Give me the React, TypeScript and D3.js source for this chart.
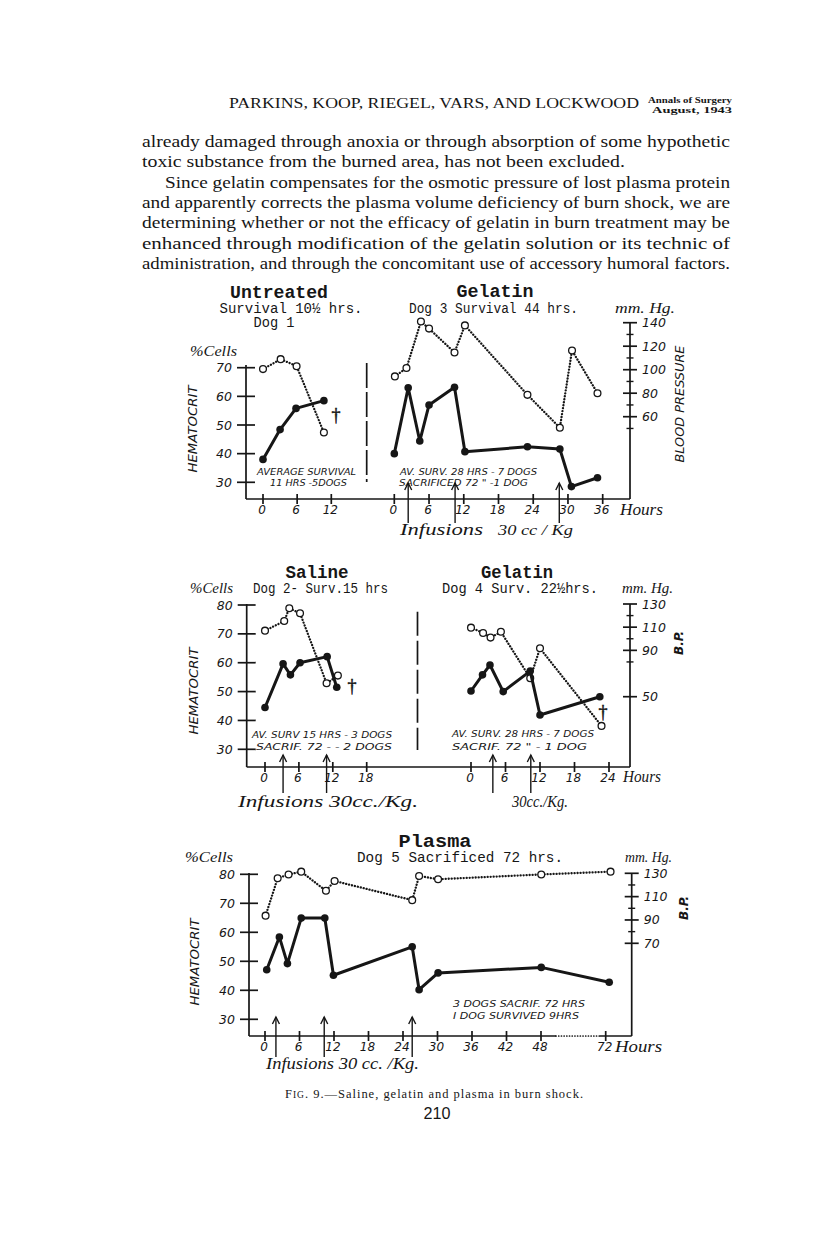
import React from "react";
import * as d3 from "d3";

// values (hours after burn, % cells, mm Hg)
const untreatedHctHours = [0, 3, 5.8, 10.7];
const untreatedHct = [38, 48.4, 55.8, 58.5];
const untreatedBpHours = [0, 3.1, 5.9, 10.7];
const untreatedBp = [100.5, 109, 103, 46.5];

const gelatin3HctHours = [0, 2.4, 4.4, 6, 10.4, 12.2, 23, 28.6, 30.6, 35.1];
const gelatin3Hct = [40, 63, 44.4, 57, 63.2, 40.7, 42.4, 41.6, 28.5, 31.6];
const gelatin3BpHours = [0.1, 2.1, 4.6, 6, 10.4, 12.2, 23, 28.6, 30.7, 35.1];
const gelatin3Bp = [94.3, 101.4, 141, 135, 114.7, 137.7, 78.6, 50.6, 116.4, 80];
const gelatin3Infusions = [2.4, 10.5, 28.5];

const salineHctHours = [0, 3.2, 4.5, 6.2, 11, 12.7];
const salineHct = [44.5, 59.6, 55.8, 60, 62.1, 51.5];
const salineBpHours = [0, 3.4, 4.3, 6.2, 10.9, 12.9];
const salineBp = [107, 115.3, 126.3, 122, 61.6, 68.2];
const salineInfusions = [3.2, 10.9];

const gelatin4HctHours = [0, 2, 3.3, 5.6, 10.3, 12, 22.4];
const gelatin4Hct = [50.2, 55.8, 59.2, 50, 57.1, 41.9, 48.2];
const gelatin4BpHours = [0, 2.1, 3.4, 5.2, 10.3, 12, 22.7];
const gelatin4Bp = [109.6, 105, 101, 106, 66, 91.8, 24.8];
const gelatin4Infusions = [3.8, 10.4];

const plasmaHctHours = [0.3, 2.5, 3.9, 6.3, 10.4, 11.9, 25.6, 26.8, 30.1, 48.1, 73.3];
const plasmaHct = [47.1, 58.4, 49.2, 64.9, 64.9, 45.2, 55, 40.2, 46, 47.9, 42.8];
const plasmaBpHours = [0.1, 2.2, 4.1, 6.3, 10.6, 12.1, 25.6, 26.8, 30.1, 48.1, 73.8];
const plasmaBp = [93.7, 125.7, 129, 131.4, 115, 123.4, 107, 127.7, 124.9, 129, 131.4];
const plasmaInfusions = [1.9, 10.3, 25.6];

// tick labels
const hctTicksTop = [30, 40, 50, 60, 70];
const hctTicks = [30, 40, 50, 60, 70, 80];
const bpTicksTop = [60, 80, 100, 120, 140];
const bpMinorTop = [50, 70, 90, 110, 130];
const bpTicksMid = [50, 90, 110, 130];
const bpMinorMid = [80, 100, 120];
const bpTicksBot = [70, 90, 110, 130];
const bpMinorBot = [80, 100, 120];
const hoursUntreated = [0, 6, 12];
const hoursGelatin3 = [0, 6, 12, 18, 24, 30, 36];
const hoursSaline = [0, 6, 12, 18];
const hoursGelatin4 = [0, 6, 12, 18, 24];
const hoursPlasma = [0, 6, 12, 18, 24, 30, 36, 42, 48, 72];

const bodyLines = [
  "already damaged through anoxia or through absorption of some hypothetic",
  "toxic substance from the burned area, has not been excluded.",
  "Since gelatin compensates for the osmotic pressure of lost plasma protein",
  "and apparently corrects the plasma volume deficiency of burn shock, we are",
  "determining whether or not the efficacy of gelatin in burn treatment may be",
  "enhanced through modification of the gelatin solution or its technic of",
  "administration, and through the concomitant use of accessory humoral factors.",
];

const ink = "#161616";
const serif = "'Liberation Serif', 'Times New Roman', serif";
const mono = "'Liberation Mono', 'DejaVu Sans Mono', monospace";
const sans = "'DejaVu Sans', 'Liberation Sans', sans-serif";

// scales, one pair per panel row
const yHctTop = d3.scaleLinear().domain([30, 70]).range([482.3, 367.7]);
const yBpTop = d3.scaleLinear().domain([60, 140]).range([416.7, 322.7]);
const xUntreated = d3.scaleLinear().domain([0, 12]).range([263, 331.3]);
const xGelatin3 = d3.scaleLinear().domain([0, 36]).range([394.3, 602.7]);

const yHctMid = d3.scaleLinear().domain([30, 80]).range([749.3, 605]);
const yBpMid = d3.scaleLinear().domain([50, 130]).range([696.7, 604]);
const xSaline = d3.scaleLinear().domain([0, 18]).range([265, 366.7]);
const xGelatin4 = d3.scaleLinear().domain([0, 24]).range([471, 609]);

const yHctBot = d3.scaleLinear().domain([30, 80]).range([1019.3, 874.3]);
const yBpBot = d3.scaleLinear().domain([70, 130]).range([943.3, 873.3]);
const xPlasma = d3.scaleLinear().domain([0, 48, 72]).range([265, 541, 605.7]);

type TxtProps = {
  x: number;
  y: number;
  s: number;
  f?: string;
  a?: "start" | "middle" | "end";
  it?: boolean;
  b?: boolean;
  len?: number;
  adj?: string;
  rot?: number;
  children: React.ReactNode;
};

const Txt = ({ x, y, s, f = serif, a = "start", it, b, len, adj, rot, children }: TxtProps) => (
  <text
    x={rot ? 0 : x}
    y={rot ? 0 : y}
    transform={rot ? `translate(${x},${y}) rotate(${rot})` : undefined}
    fontSize={s}
    fontFamily={f}
    textAnchor={a}
    fontStyle={it ? "italic" : "normal"}
    fontWeight={b ? "bold" : "normal"}
    textLength={len}
    lengthAdjust={len ? adj || "spacingAndGlyphs" : undefined}
    fill={ink}
  >
    {children}
  </text>
);

const Series = ({ xs, ys, hours, vals, dotted }: any) => {
  const pts: [number, number][] = hours.map((h: number, i: number) => [xs(h), ys(vals[i])]);
  const d = d3.line()(pts) || "";
  return (
    <g>
      <path
        d={d}
        fill="none"
        stroke={ink}
        strokeWidth={dotted ? 2.3 : 3}
        strokeDasharray={dotted ? "0.1 2.9" : undefined}
        strokeLinecap={dotted ? "round" : "butt"}
        strokeLinejoin="round"
      />
      {pts.map(([x, y], i) =>
        dotted ? (
          <circle key={i} cx={x} cy={y} r={3.4} fill="#fff" stroke={ink} strokeWidth={1.3} />
        ) : (
          <circle key={i} cx={x} cy={y} r={3.8} fill={ink} />
        )
      )}
    </g>
  );
};

const LeftAxis = ({ x, yTop, yBot, ys, ticks }: any) => (
  <g>
    <line x1={x} x2={x} y1={yTop} y2={yBot} stroke={ink} strokeWidth={1.7} />
    {ticks.map((t: number) => (
      <g key={t}>
        <line x1={x - 9} x2={x + 9} y1={ys(t)} y2={ys(t)} stroke={ink} strokeWidth={1.7} />
        <Txt x={x - 14} y={ys(t) + 4.5} s={12.5} f={sans} it a="end">
          {t}
        </Txt>
      </g>
    ))}
  </g>
);

const RightAxis = ({ x, yTop, yBot, ys, major, minor }: any) => (
  <g>
    <line x1={x} x2={x} y1={yTop} y2={yBot} stroke={ink} strokeWidth={1.7} />
    {major.map((t: number) => (
      <g key={t}>
        <line x1={x - 7} x2={x + 7} y1={ys(t)} y2={ys(t)} stroke={ink} strokeWidth={1.7} />
        <Txt x={x + 12} y={ys(t) + 4.5} s={12.5} f={sans} it>
          {t}
        </Txt>
      </g>
    ))}
    {minor.map((t: number) => (
      <line key={t} x1={x - 3.5} x2={x + 3.5} y1={ys(t)} y2={ys(t)} stroke={ink} strokeWidth={1.4} />
    ))}
  </g>
);

const XTicks = ({ xs, ticks, y }: any) => (
  <g>
    {ticks.map((t: number) => (
      <g key={t}>
        <line x1={xs(t)} x2={xs(t)} y1={y - 5} y2={y + 5} stroke={ink} strokeWidth={1.7} />
        <Txt x={xs(t) - 1} y={y + 15} s={12} f={sans} it a="middle">
          {t}
        </Txt>
      </g>
    ))}
  </g>
);

const Arrows = ({ xs, hours, y1, y2 }: any) => (
  <g>
    {hours.map((h: number) => {
      const x = xs(h);
      return (
        <g key={h} stroke={ink} fill="none" strokeWidth={1.4}>
          <line x1={x} x2={x} y1={y1} y2={y2} />
          <path d={`M${x - 3.5},${y2 + 7} L${x},${y2} L${x + 3.5},${y2 + 7}`} />
        </g>
      );
    })}
  </g>
);

// the cross marking death of the animal
const Dagger = ({ x, y }: any) => (
  <text x={x} y={y} fontSize={18} fontFamily={serif} textAnchor="middle" fill={ink} stroke={ink} strokeWidth={0.5}>
    †
  </text>
);

export default function App() {
  const lineH = 20.3;
  return (
    <svg
      width={816}
      height={1249}
      viewBox="0 0 816 1249"
      style={{ position: "absolute", left: 0, top: 0, background: "#fff" }}
    >
      <rect width={816} height={1249} fill="#fff" />

      {/* running head */}
      <Txt x={229} y={108} s={14.5} len={410}>
        PARKINS, KOOP, RIEGEL, VARS, AND LOCKWOOD
      </Txt>
      <Txt x={648} y={103} s={9} b len={84}>
        Annals of Surgery
      </Txt>
      <Txt x={652} y={113} s={8.5} b len={80}>
        August, 1943
      </Txt>

      {/* body text */}
      {bodyLines.map((t, i) => {
        const x = i === 2 ? 165 : 142;
        const end = i === 1 ? 625 : 730;
        return (
          <Txt key={i} x={x} y={147 + i * lineH} s={17} len={end - x} adj="spacingAndGlyphs">
            {t}
          </Txt>
        );
      })}

      {/* ---------- top row: Untreated / Gelatin dog 3 ---------- */}
      <Txt x={279} y={298} s={18} f={mono} b a="middle" len={98}>
        Untreated
      </Txt>
      <Txt x={291} y={313} s={14} f={mono} a="middle" len={143}>
        Survival 10½ hrs.
      </Txt>
      <Txt x={274} y={327} s={14} f={mono} a="middle" len={41}>
        Dog 1
      </Txt>
      <Txt x={495} y={297} s={18} f={mono} b a="middle" len={77}>
        Gelatin
      </Txt>
      <Txt x={409} y={313} s={14} f={mono} len={169}>
        Dog 3 Survival 44 hrs.
      </Txt>
      <Txt x={615} y={313} s={15} it len={60}>
        mm. Hg.
      </Txt>
      <Txt x={190} y={356} s={15} it len={47}>
        %Cells
      </Txt>
      <Txt x={197} y={429} s={11.5} f={sans} it a="middle" rot={-90} len={87}>
        HEMATOCRIT
      </Txt>
      <Txt x={684} y={404} s={11.5} f={sans} it a="middle" rot={-90} len={117}>
        BLOOD PRESSURE
      </Txt>

      <LeftAxis x={246} yTop={365} yBot={499} ys={yHctTop} ticks={hctTicksTop} />
      <RightAxis x={630} yTop={yBpTop(140)} yBot={499} ys={yBpTop} major={bpTicksTop} minor={bpMinorTop} />
      <line x1={246} x2={630} y1={499} y2={499} stroke={ink} strokeWidth={1.7} />
      <XTicks xs={xUntreated} ticks={hoursUntreated} y={499} />
      <XTicks xs={xGelatin3} ticks={hoursGelatin3} y={499} />
      <line x1={366.7} x2={366.7} y1={363} y2={482} stroke={ink} strokeWidth={1.7} strokeDasharray="25 4" />

      <Series xs={xUntreated} ys={yBpTop} hours={untreatedBpHours} vals={untreatedBp} dotted />
      <Series xs={xUntreated} ys={yHctTop} hours={untreatedHctHours} vals={untreatedHct} />
      <Series xs={xGelatin3} ys={yBpTop} hours={gelatin3BpHours} vals={gelatin3Bp} dotted />
      <Series xs={xGelatin3} ys={yHctTop} hours={gelatin3HctHours} vals={gelatin3Hct} />
      <Dagger x={336} y={421} />

      <Txt x={257} y={475} s={9.5} f={sans} it len={99}>
        AVERAGE SURVIVAL
      </Txt>
      <Txt x={270} y={486} s={9.5} f={sans} it len={77}>
        11 HRS -5DOGS
      </Txt>
      <Txt x={400} y={475} s={9.5} f={sans} it len={137}>
        AV. SURV. 28 HRS - 7 DOGS
      </Txt>
      <Txt x={399} y={486} s={9.5} f={sans} it len={129}>
        SACRIFICED 72 " -1 DOG
      </Txt>
      <Arrows xs={xGelatin3} hours={gelatin3Infusions} y1={523} y2={483} />
      <Txt x={620} y={515} s={16} it len={43}>
        Hours
      </Txt>
      <Txt x={400} y={535} s={16} it len={83}>
        Infusions
      </Txt>
      <Txt x={498} y={535} s={14} it len={75}>
        30 cc / Kg
      </Txt>

      {/* ---------- middle row: Saline / Gelatin dog 4 ---------- */}
      <Txt x={317} y={578} s={18} f={mono} b a="middle" len={63}>
        Saline
      </Txt>
      <Txt x={190} y={593} s={15} it len={43}>
        %Cells
      </Txt>
      <Txt x={253} y={593} s={14} f={mono} len={135}>
        Dog 2- Surv.15 hrs
      </Txt>
      <Txt x={517} y={578} s={18} f={mono} b a="middle" len={72}>
        Gelatin
      </Txt>
      <Txt x={442} y={593} s={14} f={mono} len={156}>
        Dog 4  Surv. 22½hrs.
      </Txt>
      <Txt x={622} y={593} s={15} it len={51}>
        mm. Hg.
      </Txt>
      <Txt x={198} y={691} s={11.5} f={sans} it a="middle" rot={-90} len={87}>
        HEMATOCRIT
      </Txt>
      <Txt x={683} y={643} s={11.5} f={sans} it b a="middle" rot={-90} len={24}>
        B.P.
      </Txt>

      <LeftAxis x={246.7} yTop={604} yBot={767} ys={yHctMid} ticks={hctTicks} />
      <RightAxis x={630} yTop={604} yBot={767} ys={yBpMid} major={bpTicksMid} minor={bpMinorMid} />
      <line x1={246.7} x2={630} y1={767} y2={767} stroke={ink} strokeWidth={1.7} />
      <XTicks xs={xSaline} ticks={hoursSaline} y={767} />
      <XTicks xs={xGelatin4} ticks={hoursGelatin4} y={767} />
      <line x1={417.5} x2={417.5} y1={611.7} y2={750} stroke={ink} strokeWidth={1.7} strokeDasharray="24 5" />

      <Series xs={xSaline} ys={yBpMid} hours={salineBpHours} vals={salineBp} dotted />
      <Series xs={xSaline} ys={yHctMid} hours={salineHctHours} vals={salineHct} />
      <Series xs={xGelatin4} ys={yBpMid} hours={gelatin4BpHours} vals={gelatin4Bp} dotted />
      <Series xs={xGelatin4} ys={yHctMid} hours={gelatin4HctHours} vals={gelatin4Hct} />
      <Dagger x={352} y={692} />
      <Dagger x={603} y={718} />

      <Txt x={252} y={738} s={9.5} f={sans} it len={140}>
        AV. SURV  15 HRS - 3 DOGS
      </Txt>
      <Txt x={256} y={749.5} s={9.5} f={sans} it len={136}>
        SACRIF.  72  -  - 2 DOGS
      </Txt>
      <Txt x={452} y={737} s={9.5} f={sans} it len={142}>
        AV. SURV. 28 HRS - 7 DOGS
      </Txt>
      <Txt x={452} y={749.5} s={9.5} f={sans} it len={135}>
        SACRIF.   72   "   - 1 DOG
      </Txt>
      <Arrows xs={xSaline} hours={salineInfusions} y1={793} y2={755} />
      <Arrows xs={xGelatin4} hours={gelatin4Infusions} y1={793} y2={755} />
      <Txt x={623} y={782} s={16} it len={38}>
        Hours
      </Txt>
      <Txt x={238} y={807} s={16} it len={180}>
        Infusions 30cc./Kg.
      </Txt>
      <Txt x={512} y={807} s={16} it len={56}>
        30cc./Kg.
      </Txt>

      {/* ---------- bottom row: Plasma dog 5 ---------- */}
      <Txt x={435} y={847} s={18} f={mono} b a="middle" len={73}>
        Plasma
      </Txt>
      <Txt x={185} y={862} s={15} it len={48}>
        %Cells
      </Txt>
      <Txt x={357} y={862} s={14} f={mono} len={206}>
        Dog 5   Sacrificed 72 hrs.
      </Txt>
      <Txt x={625} y={862} s={15} it len={47}>
        mm. Hg.
      </Txt>
      <Txt x={199} y={962} s={11.5} f={sans} it a="middle" rot={-90} len={87}>
        HEMATOCRIT
      </Txt>
      <Txt x={688} y={908} s={11.5} f={sans} it b a="middle" rot={-90} len={24}>
        B.P.
      </Txt>

      <LeftAxis x={249} yTop={873} yBot={1036} ys={yHctBot} ticks={hctTicks} />
      <RightAxis x={631.7} yTop={873} yBot={1036} ys={yBpBot} major={bpTicksBot} minor={bpMinorBot} />
      <line x1={249} x2={xPlasma(48) + 15} y1={1036} y2={1036} stroke={ink} strokeWidth={1.7} />
      <line
        x1={xPlasma(48) + 15}
        x2={xPlasma(72) - 6}
        y1={1036}
        y2={1036}
        stroke={ink}
        strokeWidth={1.7}
        strokeDasharray="0.1 2.6"
        strokeLinecap="round"
      />
      <line x1={xPlasma(72) - 6} x2={631.7} y1={1036} y2={1036} stroke={ink} strokeWidth={1.7} />
      <XTicks xs={xPlasma} ticks={hoursPlasma} y={1036} />

      <Series xs={xPlasma} ys={yBpBot} hours={plasmaBpHours} vals={plasmaBp} dotted />
      <Series xs={xPlasma} ys={yHctBot} hours={plasmaHctHours} vals={plasmaHct} />

      <Txt x={453} y={1007} s={9.5} f={sans} it len={132}>
        3 DOGS SACRIF. 72 HRS
      </Txt>
      <Txt x={453} y={1018.5} s={9.5} f={sans} it len={126}>
        I DOG SURVIVED  9HRS
      </Txt>
      <Arrows xs={xPlasma} hours={plasmaInfusions} y1={1057} y2={1017} />
      <Txt x={615} y={1052} s={16} it len={47}>
        Hours
      </Txt>
      <Txt x={266} y={1069} s={16} it len={153}>
        Infusions 30 cc. /Kg.
      </Txt>

      {/* caption and folio */}
      <text x={285} y={1098} fontSize={12.5} fontFamily={serif} fill={ink} textLength={298} lengthAdjust="spacing">
        F<tspan fontSize={9.5}>IG</tspan>. 9.—Saline, gelatin and plasma in burn shock.
      </text>
      <Txt x={437} y={1119} s={16} f="'Liberation Sans', sans-serif" a="middle" len={27}>
        210
      </Txt>
    </svg>
  );
}
